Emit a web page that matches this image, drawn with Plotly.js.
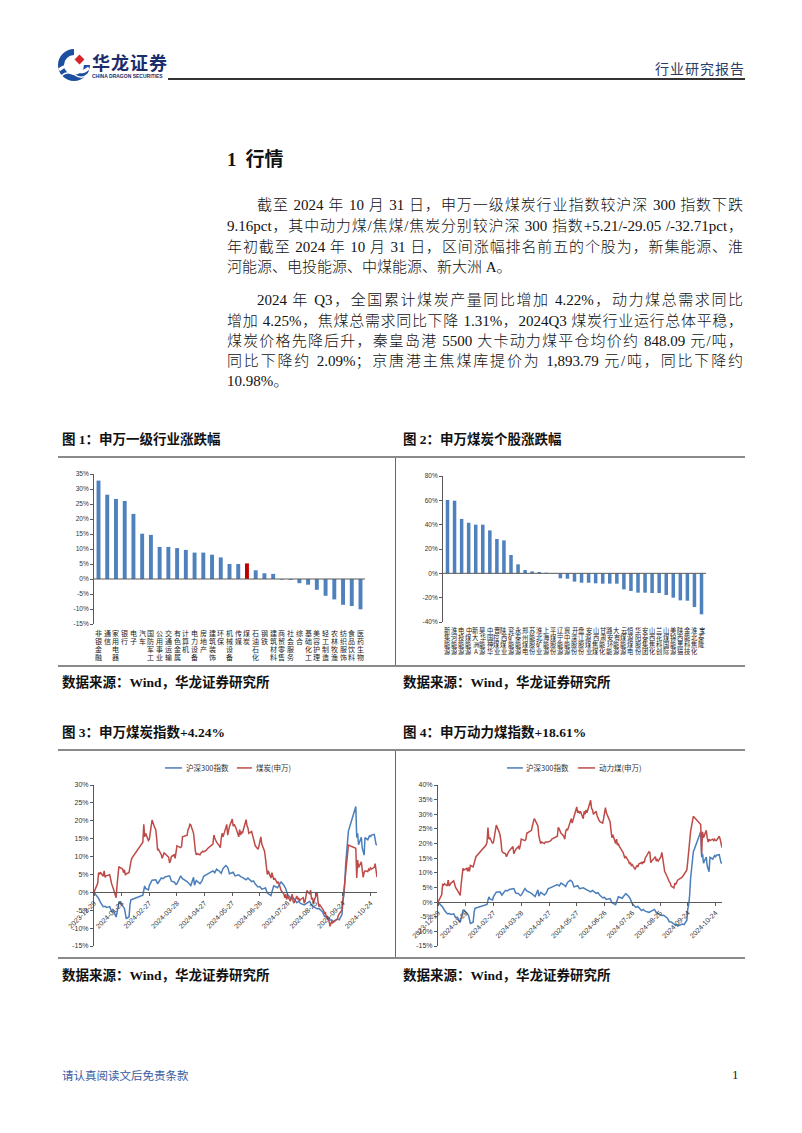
<!DOCTYPE html>
<html><head><meta charset="utf-8">
<script src="https://cdn.plot.ly/plotly-3.0.1.min.js"></script>
<style>
body{margin:0;background:#fff;}
#page{position:relative;width:802px;height:1133px;overflow:hidden;background:#fff;font-family:"Liberation Serif","Noto Sans CJK SC",serif;color:#111;}
.abs{position:absolute;white-space:nowrap;}
.line{position:absolute;left:227px;width:516px;height:21px;line-height:21px;font-size:15px;font-weight:300;white-space:nowrap;text-align:justify;text-align-last:justify;}
.ind{padding-left:30px;width:486px;}
.last{text-align:left;text-align-last:left;}
.cap{position:absolute;white-space:nowrap;font-family:"Liberation Serif","Noto Sans CJK SC",serif;font-weight:bold;font-size:13.5px;line-height:18px;height:18px;color:#111;}
.hr{position:absolute;background:#8a8a8a;}
.chart{position:absolute;}
</style></head>
<body><div id="page">

<!-- header -->
<svg class="abs" style="left:56px;top:47px" width="36" height="36" viewBox="0 0 36 36">
  <path d="M18 2 A16 16 0 1 0 34 18 L28 18 A10 10 0 1 1 18 8 Z" fill="#1d4fa0"/>
  <path d="M3 23 Q11 16 18 22 T33 21" stroke="#fff" stroke-width="3" fill="none"/>
  <path d="M5 29 Q12 23 19 28 T32 27" stroke="#fff" stroke-width="1.5" fill="none"/>
  <rect x="20" y="9" width="7" height="7" transform="rotate(45 23.5 12.5)" fill="#d7262b"/>
</svg>
<div class="abs" style="left:92px;top:51px;font-family:'Noto Sans CJK SC';font-weight:bold;font-size:18px;line-height:22px;color:#1b2d6b;letter-spacing:1px;">华龙证券</div>
<div class="abs" style="left:92px;top:73px;font-family:'Liberation Sans';font-weight:bold;font-size:5px;line-height:6px;color:#1b2d6b;">CHINA DRAGON SECURITIES</div>
<div class="abs" style="right:57px;top:58px;font-family:'Noto Sans CJK SC';font-size:14px;line-height:20px;color:#2b3a67;letter-spacing:1px;">行业研究报告</div>
<div class="abs" style="left:168px;top:78px;width:577px;height:1.5px;background:#333;"></div>

<!-- section title & text -->
<div class="abs" style="left:227px;top:148px;font-family:'Liberation Serif','Noto Sans CJK SC';font-weight:bold;font-size:19px;line-height:24px;">1<span style="display:inline-block;width:9px"></span>行情</div>

<div class="line ind" style="top:195px;">截至 2024 年 10 月 31 日，申万一级煤炭行业指数较沪深 300 指数下跌</div>
<div class="line" style="top:216px;">9.16pct，其中动力煤/焦煤/焦炭分别较沪深 300 指数+5.21/-29.05 /-32.71pct，</div>
<div class="line" style="top:237px;">年初截至 2024 年 10 月 31 日，区间涨幅排名前五的个股为，新集能源、淮</div>
<div class="line last" style="top:257px;">河能源、电投能源、中煤能源、新大洲 A。</div>

<div class="line ind" style="top:290px;">2024 年 Q3，全国累计煤炭产量同比增加 4.22%，动力煤总需求同比</div>
<div class="line" style="top:311px;">增加 4.25%，焦煤总需求同比下降 1.31%，2024Q3 煤炭行业运行总体平稳，</div>
<div class="line" style="top:331px;">煤炭价格先降后升，秦皇岛港 5500 大卡动力煤平仓均价约 848.09 元/吨，</div>
<div class="line" style="top:351px;">同比下降约 2.09%；京唐港主焦煤库提价为 1,893.79 元/吨，同比下降约</div>
<div class="line last" style="top:371px;">10.98%。</div>

<!-- figure 1/2 -->
<div class="cap" style="left:62px;top:431px;">图 1：申万一级行业涨跌幅</div>
<div class="cap" style="left:403px;top:431px;">图 2：申万煤炭个股涨跌幅</div>
<div class="hr" style="left:58px;top:456px;width:687px;height:2px;"></div>
<div class="hr" style="left:395px;top:458px;width:1px;height:208px;background:#666;"></div>
<div class="hr" style="left:58px;top:665px;width:687px;height:2px;"></div>
<div id="c1" class="chart" style="left:58px;top:460px;width:336px;height:205px;"></div>
<div id="c2" class="chart" style="left:396px;top:460px;width:349px;height:205px;"></div>
<div class="cap" style="left:62px;top:674px;">数据来源：Wind，华龙证券研究所</div>
<div class="cap" style="left:403px;top:674px;">数据来源：Wind，华龙证券研究所</div>

<!-- figure 3/4 -->
<div class="cap" style="left:62px;top:724px;">图 3：申万煤炭指数+4.24%</div>
<div class="cap" style="left:403px;top:724px;">图 4：申万动力煤指数+18.61%</div>
<div class="hr" style="left:58px;top:749px;width:687px;height:2px;"></div>
<div class="hr" style="left:395px;top:751px;width:1px;height:207px;background:#666;"></div>
<div class="hr" style="left:58px;top:957px;width:687px;height:2px;"></div>
<div id="c3" class="chart" style="left:58px;top:752px;width:336px;height:205px;"></div>
<div id="c4" class="chart" style="left:396px;top:752px;width:349px;height:205px;"></div>
<div class="cap" style="left:62px;top:967px;">数据来源：Wind，华龙证券研究所</div>
<div class="cap" style="left:403px;top:967px;">数据来源：Wind，华龙证券研究所</div>

<!-- footer -->
<div class="abs" style="left:62px;top:1067px;font-family:'Noto Sans CJK SC';font-size:11.5px;line-height:16px;color:#3a5ba0;">请认真阅读文后免责条款</div>
<div class="abs" style="left:732px;top:1066px;font-family:'Liberation Serif';font-size:13px;line-height:18px;color:#222;">1</div>

</div>
<script>
// ---------- Figure 1 data ----------
const industries = ['非银金融','通信','家用电器','银行','电子','汽车','国防军工','公用事业','交通运输','有色金属','计算机','电力设备','房地产','建筑装饰','环保','机械设备','传媒','煤炭','石油石化','钢铁','建筑材料','商贸零售','社会服务','综合','基础化工','美容护理','轻工制造','农林牧渔','纺织服饰','食品饮料','医药生物'];
const industryChange = [32.8,28.1,26.7,26.0,21.7,15.1,14.7,10.7,10.7,10.3,9.7,8.8,8.8,8.1,7.2,5.0,5.0,5.2,2.9,1.9,1.7,-0.2,-0.3,-1.4,-1.9,-3.6,-5.6,-6.8,-8.6,-9.0,-10.1];
const highlightIndustry = '煤炭';
const yTicks1 = [-15,-10,-5,0,5,10,15,20,25,30,35];

// ---------- Figure 2 data ----------
const stocks = ['新集能源','淮河能源','电投能源','中煤能源','新大洲A','昊华能源','中国神华','晋控煤业','陕西煤业','兖矿能源','永泰能源','郑州煤电','苏能股份','淮北矿业','上海能源','平煤股份','辽宁能源','冀中能源','开滦股份','盘江股份','安源煤业','山西焦煤','甘肃能化','潞安环能','大有能源','云煤能源','恒源煤电','华阳股份','安泰集团','山西焦化','兰花科创','山煤国际','美锦能源','陕西黑猫','金能科技','淮北焦化','宝泰隆'];
const stockChange = [60.3,59.7,44.7,41.6,40.0,40.0,35.3,28.2,27.1,15.1,7.4,2.7,1.6,1.1,0.5,-0.3,-4.1,-4.4,-6.8,-7.7,-7.7,-8.2,-8.5,-8.5,-8.5,-13.2,-14.5,-15.9,-15.9,-16.2,-16.2,-17.8,-20.0,-22.2,-22.5,-27.7,-33.7];
const yTicks2 = [-40,-20,0,20,40,60,80];

// ---------- Figures 3/4 data (% change since 2023-12-29) ----------
const csiName = '沪深300指数';
const csiDates = ['2023-12-29',
 '2024-01-02','2024-01-03','2024-01-05','2024-01-08','2024-01-10','2024-01-12','2024-01-15','2024-01-17','2024-01-19','2024-01-22','2024-01-24','2024-01-25','2024-01-26','2024-01-29','2024-01-31',
 '2024-02-02','2024-02-05','2024-02-06','2024-02-07','2024-02-08','2024-02-19','2024-02-20','2024-02-21','2024-02-22','2024-02-23','2024-02-26','2024-02-27','2024-02-29',
 '2024-03-01','2024-03-05','2024-03-07','2024-03-11','2024-03-13','2024-03-15','2024-03-18','2024-03-20','2024-03-22','2024-03-25','2024-03-27','2024-03-28',
 '2024-04-01','2024-04-03','2024-04-08','2024-04-10','2024-04-12','2024-04-15','2024-04-16','2024-04-18','2024-04-22','2024-04-24','2024-04-26','2024-04-30',
 '2024-05-06','2024-05-08','2024-05-10','2024-05-13','2024-05-15','2024-05-17','2024-05-20','2024-05-22','2024-05-24','2024-05-28','2024-05-30',
 '2024-06-03','2024-06-05','2024-06-07','2024-06-11','2024-06-13','2024-06-17','2024-06-19','2024-06-21','2024-06-24','2024-06-26','2024-06-28',
 '2024-07-02','2024-07-04','2024-07-08','2024-07-09','2024-07-11','2024-07-15','2024-07-17','2024-07-19','2024-07-22','2024-07-24','2024-07-26','2024-07-30',
 '2024-08-01','2024-08-05','2024-08-07','2024-08-09','2024-08-13','2024-08-16','2024-08-19','2024-08-21','2024-08-23','2024-08-27','2024-08-29',
 '2024-09-02','2024-09-04','2024-09-06','2024-09-10','2024-09-12','2024-09-13','2024-09-18','2024-09-20','2024-09-23','2024-09-24','2024-09-25','2024-09-26','2024-09-27','2024-09-30',
 '2024-10-08','2024-10-09','2024-10-10','2024-10-11','2024-10-14','2024-10-15','2024-10-16','2024-10-17','2024-10-18','2024-10-21','2024-10-22','2024-10-23','2024-10-24','2024-10-25','2024-10-28','2024-10-29','2024-10-30','2024-10-31'];
const csiValues = [0,
 -1.3,-1.7,-2.8,-4.0,-3.9,-4.2,-4.0,-5.3,-5.2,-6.9,-4.3,-2.8,-2.7,-3.8,-4.5,
 -7.3,-6.9,-3.6,-2.1,-2.0,-1.0,-0.8,0.6,1.8,1.1,0.7,1.9,2.9,
 3.4,3.5,2.4,4.0,3.8,4.3,4.4,4.6,3.1,2.9,2.2,2.4,
 4.6,3.8,3.0,2.5,1.9,4.2,2.0,3.3,2.4,3.1,4.5,5.1,
 6.0,5.5,6.5,5.9,5.3,6.7,7.5,7.0,5.2,5.6,4.6,
 4.9,4.4,4.2,3.5,4.0,3.0,3.2,2.3,1.5,1.6,0.9,
 1.2,-0.2,-0.9,0.1,1.8,1.3,2.1,2.9,2.0,1.0,-0.6,-1.8,
 -1.5,-2.9,-2.5,-3.1,-3.5,-3.0,-2.5,-3.6,-3.9,-4.6,-4.5,
 -5.5,-6.7,-6.8,-7.7,-7.7,-8.2,-7.5,-7.7,-6.2,-2.3,-0.9,2.3,7.9,17.1,
 24.0,15.3,16.5,13.3,15.4,12.4,11.7,10.4,15.3,14.7,15.3,15.9,15.5,16.0,16.2,14.5,13.4,13.2];

const coalName = '煤炭(申万)';
const thermalName = '动力煤(申万)';
const coalDates = ['2023-12-29',
 '2024-01-02','2024-01-03','2024-01-04','2024-01-05','2024-01-08','2024-01-09','2024-01-10','2024-01-11','2024-01-12','2024-01-15','2024-01-16','2024-01-17','2024-01-19','2024-01-22','2024-01-23','2024-01-24','2024-01-25','2024-01-26','2024-01-29','2024-01-30','2024-01-31',
 '2024-02-01','2024-02-02','2024-02-05','2024-02-06','2024-02-07','2024-02-08','2024-02-19','2024-02-20','2024-02-21','2024-02-22','2024-02-23','2024-02-26','2024-02-27','2024-02-28','2024-02-29',
 '2024-03-01','2024-03-04','2024-03-05','2024-03-06','2024-03-07','2024-03-08','2024-03-11','2024-03-12','2024-03-13','2024-03-14','2024-03-15','2024-03-18','2024-03-19','2024-03-20','2024-03-21','2024-03-22','2024-03-25','2024-03-26','2024-03-27','2024-03-28',
 '2024-04-01','2024-04-02','2024-04-03','2024-04-08','2024-04-09','2024-04-10','2024-04-11','2024-04-12','2024-04-15','2024-04-16','2024-04-17','2024-04-18','2024-04-19','2024-04-22','2024-04-23','2024-04-25','2024-04-26','2024-04-29','2024-04-30',
 '2024-05-06','2024-05-07','2024-05-08','2024-05-09','2024-05-10','2024-05-13','2024-05-14','2024-05-15','2024-05-16','2024-05-17','2024-05-20','2024-05-21','2024-05-22','2024-05-23','2024-05-24','2024-05-27','2024-05-28','2024-05-29','2024-05-30','2024-05-31',
 '2024-06-03','2024-06-04','2024-06-05','2024-06-06','2024-06-07','2024-06-11','2024-06-12','2024-06-13','2024-06-14','2024-06-17','2024-06-18','2024-06-19','2024-06-20','2024-06-21','2024-06-24','2024-06-25','2024-06-26','2024-06-27','2024-06-28',
 '2024-07-01','2024-07-02','2024-07-03','2024-07-04','2024-07-05','2024-07-08','2024-07-09','2024-07-10','2024-07-11','2024-07-12','2024-07-15','2024-07-16','2024-07-17','2024-07-18','2024-07-19','2024-07-22','2024-07-23','2024-07-24','2024-07-25','2024-07-26','2024-07-29','2024-07-30','2024-07-31',
 '2024-08-01','2024-08-02','2024-08-05','2024-08-06','2024-08-07','2024-08-08','2024-08-09','2024-08-12','2024-08-13','2024-08-14','2024-08-15','2024-08-16','2024-08-19','2024-08-20','2024-08-21','2024-08-22','2024-08-23','2024-08-26','2024-08-27','2024-08-28','2024-08-29','2024-08-30',
 '2024-09-02','2024-09-03','2024-09-04','2024-09-05','2024-09-06','2024-09-09','2024-09-10','2024-09-11','2024-09-12','2024-09-13','2024-09-18','2024-09-19','2024-09-20','2024-09-23','2024-09-24','2024-09-25','2024-09-26','2024-09-27','2024-09-30',
 '2024-10-08','2024-10-09','2024-10-10','2024-10-11','2024-10-14','2024-10-15','2024-10-16','2024-10-17','2024-10-18','2024-10-21','2024-10-22','2024-10-23','2024-10-24','2024-10-25','2024-10-28','2024-10-29','2024-10-30','2024-10-31'];
const coalValues = [0,
 2.5,5.5,5.0,5.6,4.5,6.0,4.2,4.6,4.7,4.9,3.8,2.5,1.0,-1.5,2.0,5.0,7.2,7.0,6.5,5.5,6.3,
 4.8,5.2,5.5,7.5,8.5,9.5,13.5,14.0,19.0,15.5,16.5,14.5,14.8,17.0,18.0,
 20.2,18.0,17.5,15.0,11.8,12.0,10.5,9.5,10.5,11.0,10.8,10.2,9.8,8.2,8.8,10.0,10.5,9.5,11.0,13.0,
 12.5,12.8,15.5,16.0,17.5,18.0,19.0,18.8,16.5,13.0,11.5,10.5,10.8,10.5,11.0,11.5,11.3,11.8,12.2,
 13.5,16.0,15.2,14.5,14.0,13.0,12.5,15.0,16.5,15.5,18.0,19.0,16.0,17.5,18.5,20.5,18.5,19.0,18.5,18.0,
 15.5,17.5,16.0,17.0,16.5,20.3,18.5,18.0,16.5,17.0,16.0,14.5,14.0,13.0,12.0,13.0,14.5,15.5,13.5,
 11.5,9.5,7.0,5.0,6.0,4.0,5.5,4.5,3.5,4.0,2.5,3.0,2.0,1.0,0.5,-0.5,-1.5,-0.5,-2.0,-1.0,-2.5,-1.5,-0.5,
 -2.5,-3.0,-1.0,-2.0,-1.5,-2.5,-2.0,-1.5,-3.0,-2.5,-1.0,0.5,-0.5,0.6,-2.0,-1.5,-3.0,-0.5,0.0,-2.5,-4.0,-3.5,
 -4.5,-5.0,-6.0,-5.5,-7.0,-8.0,-9.5,-8.5,-8.0,-8.5,-7.5,-6.5,-6.0,-5.0,-2.5,0.5,4.0,7.0,13.2,
 12.3,4.0,9.0,7.0,8.5,6.0,4.2,5.5,6.0,5.8,6.5,6.2,6.8,6.5,7.0,8.0,6.0,4.24];
const thermalValues = [0,
 2.5,6.0,5.8,6.3,5.5,7.5,5.5,6.0,6.5,7.3,6.0,5.0,4.0,2.3,6.0,8.5,11.5,11.0,11.5,10.5,11.8,
 10.5,12.5,12.0,13.5,14.5,15.5,19.5,20.5,25.5,21.5,22.0,20.0,20.5,22.5,24.0,
 26.3,24.0,23.0,21.0,17.5,17.0,16.5,15.5,16.5,17.0,17.5,18.5,19.0,16.5,17.5,18.0,19.0,18.0,19.5,21.5,
 21.0,21.5,23.5,24.5,26.0,27.5,28.5,28.0,26.0,22.5,21.0,20.0,20.5,20.0,20.5,20.5,20.5,21.0,21.5,
 22.5,25.5,25.0,24.0,23.5,22.5,21.5,24.0,25.0,24.5,27.0,28.5,27.0,28.0,29.5,32.5,30.5,31.0,30.5,31.0,
 28.5,31.0,30.0,31.5,30.5,34.8,32.0,31.5,30.0,31.0,29.5,28.5,28.0,27.5,27.0,28.5,30.5,32.3,30.5,
 28.5,27.5,24.5,22.0,23.0,20.0,21.5,19.5,20.0,19.0,17.5,17.0,16.0,15.0,15.5,14.0,13.0,13.5,12.5,12.8,11.2,12.0,12.5,
 12.0,13.0,13.5,13.0,14.0,13.5,15.0,16.5,17.2,17.0,13.5,14.0,15.0,15.5,14.0,14.5,14.0,15.5,17.0,15.0,12.0,10.5,
 8.5,7.5,7.0,6.5,5.5,4.8,6.5,6.0,7.0,7.5,8.5,9.0,9.5,11.0,14.0,18.0,22.0,24.0,29.3,
 26.5,16.5,24.0,22.0,24.5,22.0,20.5,21.5,21.0,21.5,21.0,21.5,21.0,21.0,22.5,21.5,20.0,18.61];

const dateTicks = ['2023-12-29','2024-01-28','2024-02-27','2024-03-28','2024-04-27','2024-05-27','2024-06-26','2024-07-26','2024-08-25','2024-09-24','2024-10-24'];
const dateRange = ['2023-12-29','2024-10-31'];
const yTicks3 = [-15,-10,-5,0,5,10,15,20,25,30];
const yTicks4 = [-15,-10,-5,0,5,10,15,20,25,30,35,40];

// ---------- styles ----------
const BLUE_BAR = '#4F81BD', RED_BAR = '#C00000';
const BLUE_LINE = '#4A7EBB', RED_LINE = '#BE4B48';
const AX = '#5a5a5a';
const cfg = {staticPlot:true, displayModeBar:false};
const base = {paper_bgcolor:'rgba(0,0,0,0)', plot_bgcolor:'rgba(0,0,0,0)', showlegend:false,
  font:{family:'Liberation Sans, Noto Sans CJK SC, sans-serif', size:7, color:'#333'}};
const pct = v => v + '%';

function yAxis(ticks, size){
  return {range:[ticks[0], ticks[ticks.length-1]], tickmode:'array', tickvals:ticks, ticktext:ticks.map(pct),
    showline:true, linecolor:AX, linewidth:1, ticks:'outside', ticklen:3, tickcolor:AX,
    showgrid:false, zeroline:false, tickfont:{size:size, color:'#333'}, automargin:false, fixedrange:true};
}

// category labels written top-to-bottom, one character per row, under each bar
function stackedLabels(names, plotH, gap, rowH, fs){
  const ann = [];
  names.forEach(n => {
    Array.from(n).forEach((ch, k) => {
      ann.push({xref:'x', yref:'paper', x:n, y:-(gap + k*rowH)/plotH, xanchor:'center', yanchor:'top',
        text:ch, showarrow:false, borderpad:0, font:{family:'Noto Sans CJK SC', size:fs, color:'#222'}});
    });
  });
  return ann;
}

function barChart(id, names, vals, ticks, w, h, m, fs, rowH, bw){
  const colors = names.map(n => n === highlightIndustry ? RED_BAR : BLUE_BAR);
  const plotH = h - m.t - m.b;
  Plotly.newPlot(id, [{type:'bar', x:names, y:vals, width:bw, marker:{color:colors, line:{width:0}}}],
    Object.assign({}, base, {width:w, height:h, margin:m,
      xaxis:{type:'category', showticklabels:false, ticks:'', showline:false, showgrid:false, zeroline:false, automargin:false},
      yaxis:yAxis(ticks, 6.5),
      shapes:[{type:'line', xref:'paper', yref:'y', x0:0, x1:1, y0:0, y1:0, line:{color:AX, width:1}}],
      annotations:stackedLabels(names, plotH, 3, rowH, fs)
    }), cfg);
}

barChart('c1', industries, industryChange, yTicks1, 336, 205, {l:36, r:29, t:14, b:41}, 7, 8, 0.45);
barChart('c2', stocks, stockChange, yTicks2, 349, 205, {l:47, r:39, t:16, b:43}, 6.3, 7, 0.5);

function lineChart(id, redName, redVals, ticks, w, h, m, leg){
  const zeroPos = (0 - ticks[0]) / (ticks[ticks.length-1] - ticks[0]);
  const traces = [
    {type:'scatter', mode:'lines', x:csiDates, y:csiValues, name:csiName, line:{color:BLUE_LINE, width:1.5}},
    {type:'scatter', mode:'lines', x:coalDates, y:redVals, name:redName, line:{color:RED_LINE, width:1.5}}
  ];
  Plotly.newPlot(id, traces, Object.assign({}, base, {width:w, height:h, margin:m,
    xaxis:{type:'date', range:dateRange, tickmode:'array', tickvals:dateTicks, ticktext:dateTicks, tickangle:-45,
      anchor:'free', position:zeroPos, showline:true, linecolor:AX, linewidth:1, ticks:'outside', ticklen:3, tickcolor:AX,
      showgrid:false, zeroline:false, automargin:false, tickfont:{size:7, color:'#333'}},
    yaxis:yAxis(ticks, 7),
    shapes:[
      {type:'line', xref:'paper', yref:'paper', x0:leg[0], x1:leg[1], y0:1.106, y1:1.106, line:{color:BLUE_LINE, width:1.5}},
      {type:'line', xref:'paper', yref:'paper', x0:leg[3], x1:leg[4], y0:1.106, y1:1.106, line:{color:RED_LINE, width:1.5}}
    ],
    annotations:[
      {xref:'paper', yref:'paper', x:leg[2], y:1.106, xanchor:'left', yanchor:'middle', showarrow:false, text:csiName, font:{size:7.5, color:'#333', family:'Noto Sans CJK SC'}},
      {xref:'paper', yref:'paper', x:leg[5], y:1.106, xanchor:'left', yanchor:'middle', showarrow:false, text:redName, font:{size:7.5, color:'#333', family:'Noto Sans CJK SC'}}
    ]
  }), cfg);
}

lineChart('c3', coalName, coalValues, yTicks3, 336, 205, {l:36, r:17, t:33, b:11}, [0.251,0.311,0.318,0.505,0.558,0.565]);
lineChart('c4', thermalName, thermalValues, yTicks4, 349, 205, {l:42, r:23, t:33, b:11}, [0.243,0.299,0.302,0.493,0.553,0.56]);
</script>
</body></html>
